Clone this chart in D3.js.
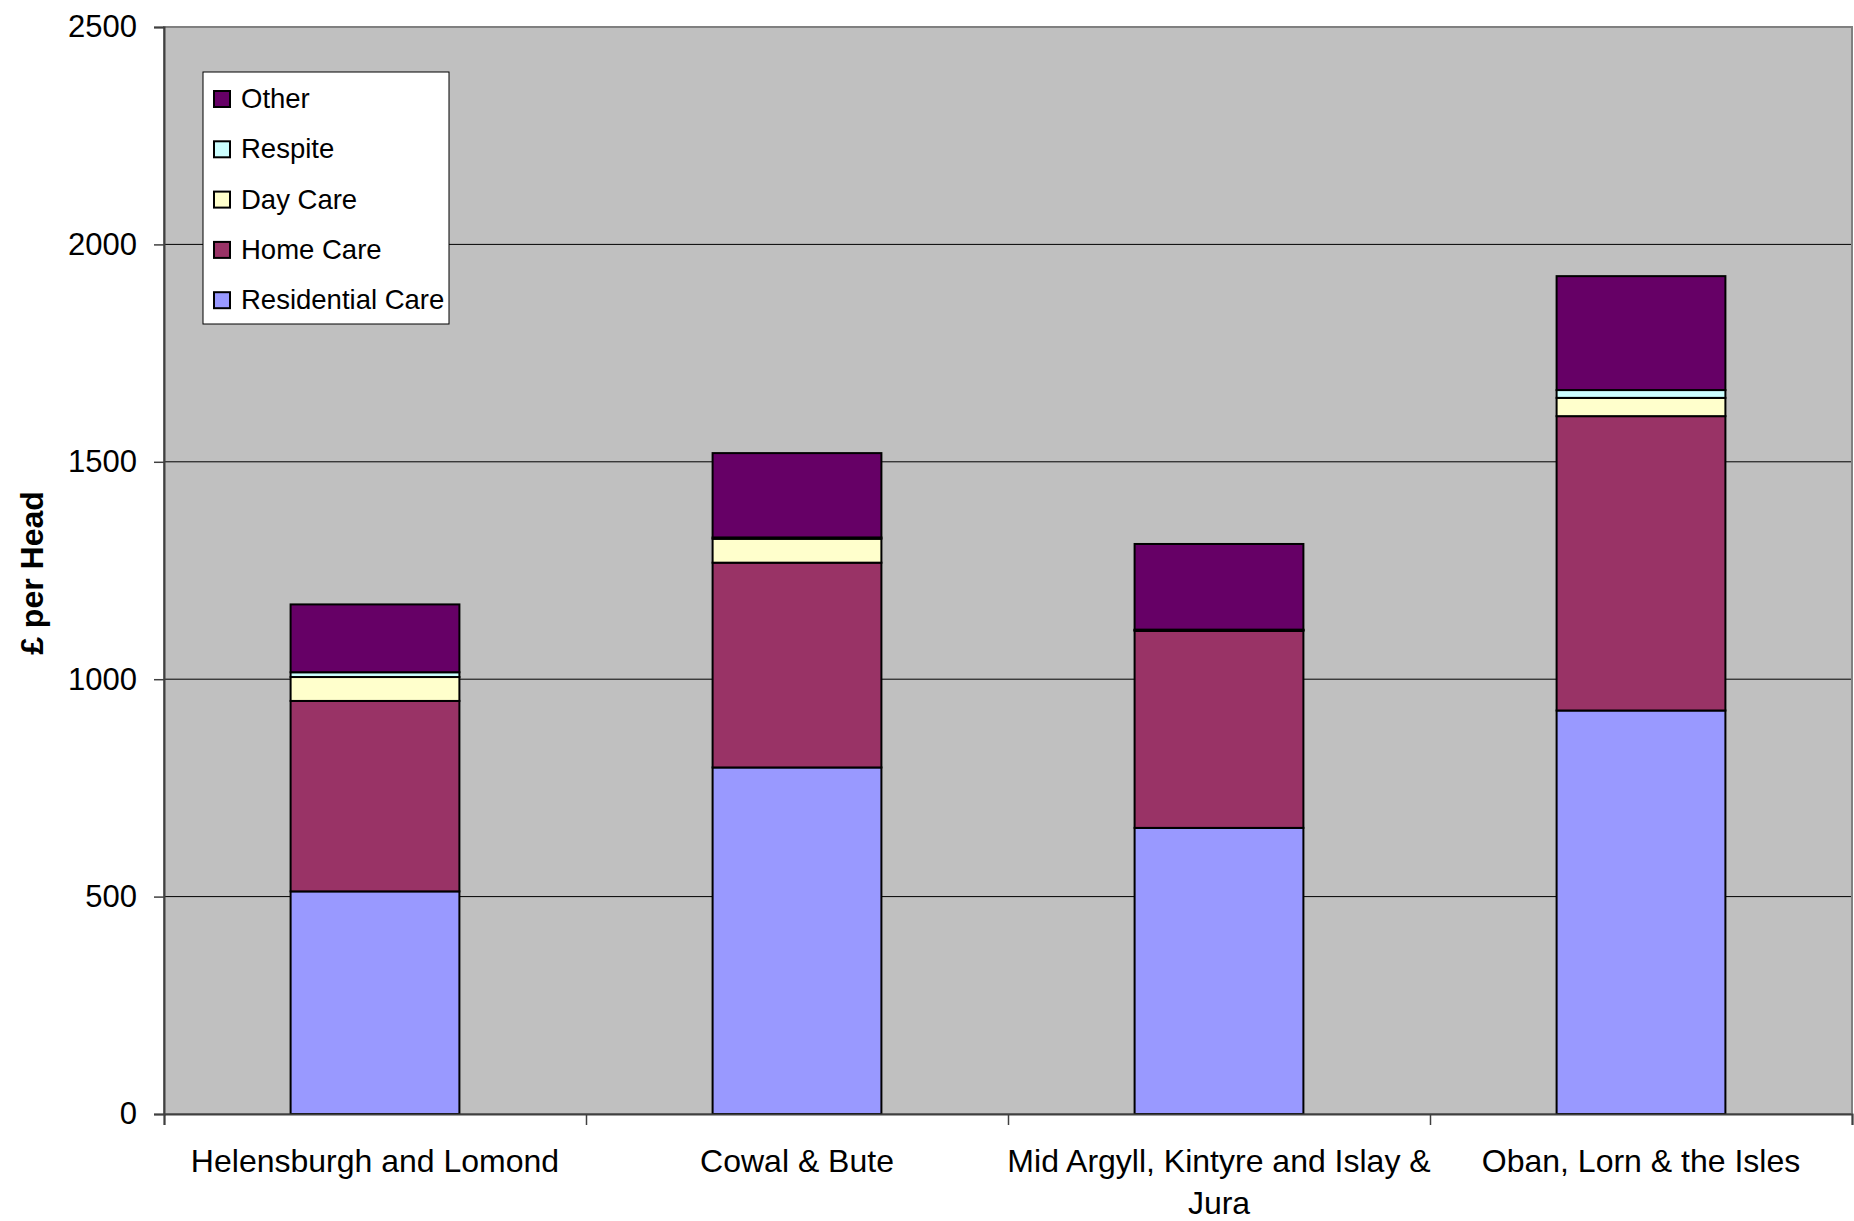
<!DOCTYPE html>
<html>
<head>
<meta charset="utf-8">
<script src="https://cdn.jsdelivr.net/npm/d3@7"></script>
<style>
  html, body { margin: 0; padding: 0; background: #ffffff; }
  svg { display: block; font-family: "Liberation Sans", Arial, sans-serif; }
</style>
</head>
<body>
<svg id="chart" width="1854" height="1221"></svg>
<script>
// Spending per head by locality, split by service type
const categories = [
  "Helensburgh and Lomond",
  "Cowal & Bute",
  "Mid Argyll, Kintyre and Islay & Jura",
  "Oban, Lorn & the Isles"
];
const residentialCare = [512, 797, 658, 928];
const homeCare        = [438, 471, 453, 677];
const dayCare         = [55, 55, 2, 42];
const respite         = [11, 3, 1, 18];
const other           = [156, 194, 197, 262];

const seriesNames  = ["Residential Care", "Home Care", "Day Care", "Respite", "Other"];
const seriesValues = [residentialCare, homeCare, dayCare, respite, other];
const seriesColors = ["#9999FF", "#993366", "#FFFFCC", "#CCFFFF", "#660066"];
const yTicks = [0, 500, 1000, 1500, 2000, 2500];
const yTitle = "£ per Head";

const svg = d3.select("#chart");
const plot = { left: 164, right: 1852, top: 27, bottom: 1114 };
const fontFamily = "Liberation Sans, Arial, sans-serif";

const x = d3.scaleBand()
  .domain(categories)
  .range([plot.left, plot.right])
  .paddingInner(0.6)
  .paddingOuter(0.3);

const y = d3.scaleLinear().domain([0, 2500]).range([plot.bottom, plot.top]);

// rows for the stack
const rows = categories.map((c, i) => {
  const r = { category: c };
  seriesNames.forEach((s, j) => { r[s] = seriesValues[j][i]; });
  return r;
});
const stacked = d3.stack().keys(seriesNames)(rows);

// plot background
svg.append("rect")
  .attr("x", plot.left).attr("y", plot.top)
  .attr("width", plot.right - plot.left).attr("height", plot.bottom - plot.top)
  .attr("fill", "#C0C0C0");

// horizontal gridlines
svg.append("g")
  .selectAll("line")
  .data(yTicks.filter(t => t > 0 && t < 2500))
  .join("line")
  .attr("x1", plot.left).attr("x2", plot.right)
  .attr("y1", d => y(d)).attr("y2", d => y(d))
  .attr("stroke", "#000").attr("stroke-width", 1);

// plot frame
svg.append("rect")
  .attr("x", plot.left).attr("y", plot.top)
  .attr("width", plot.right - plot.left).attr("height", plot.bottom - plot.top)
  .attr("fill", "none").attr("stroke", "#808080").attr("stroke-width", 2);

// stacked bars
const layers = svg.append("g")
  .selectAll("g")
  .data(stacked)
  .join("g")
  .attr("fill", (d, i) => seriesColors[i]);

layers.selectAll("rect")
  .data(d => d)
  .join("rect")
  .attr("x", d => x(d.data.category))
  .attr("width", x.bandwidth())
  .attr("y", d => y(d[1]))
  .attr("height", d => y(d[0]) - y(d[1]))
  .attr("stroke", "#000")
  .attr("stroke-width", 2);

// y axis
const yAxis = d3.axisLeft(y).tickValues(yTicks).tickFormat(d3.format("d"))
  .tickSize(10).tickPadding(17);
const gy = svg.append("g")
  .attr("transform", `translate(${plot.left},0)`)
  .call(yAxis);
gy.select(".domain").attr("stroke", "#404040").attr("stroke-width", 2);
gy.selectAll(".tick line").attr("stroke", "#404040").attr("stroke-width", 1.5);
gy.selectAll(".tick text")
  .attr("font-size", 31)
  .attr("font-family", fontFamily)
  .attr("fill", "#000");

// x axis: tick marks at category boundaries
const xEdges = d3.scaleLinear().domain([0, categories.length]).range([plot.left, plot.right]);
const gx = svg.append("g")
  .attr("transform", `translate(0,${plot.bottom})`)
  .call(d3.axisBottom(xEdges).tickValues(d3.range(categories.length + 1)).tickSize(11).tickFormat(""));
gx.select(".domain").attr("stroke", "#404040").attr("stroke-width", 2);
gx.selectAll(".tick line").attr("stroke", "#404040").attr("stroke-width", 1.5);

// category labels, wrapped to roughly the category width
const labelWidth = x.step() + 8;
const labels = svg.append("g")
  .selectAll("text")
  .data(categories)
  .join("text")
  .attr("x", d => x(d) + x.bandwidth() / 2)
  .attr("y", 1172)
  .attr("text-anchor", "middle")
  .attr("font-size", 32)
  .attr("font-family", fontFamily)
  .attr("fill", "#000");

labels.each(function (d) {
  const text = d3.select(this);
  const words = d.split(" ");
  const cx = +text.attr("x");
  let line = [];
  let tspan = text.append("tspan").attr("x", cx).attr("dy", 0);
  words.forEach(w => {
    line.push(w);
    tspan.text(line.join(" "));
    if (tspan.node().getComputedTextLength() > labelWidth && line.length > 1) {
      line.pop();
      tspan.text(line.join(" "));
      line = [w];
      tspan = text.append("tspan").attr("x", cx).attr("dy", 42).text(w);
    }
  });
});

// y axis title
svg.append("text")
  .attr("transform", `translate(43,${573}) rotate(-90)`)
  .attr("text-anchor", "middle")
  .attr("font-size", 32)
  .attr("font-weight", "bold")
  .attr("font-family", fontFamily)
  .attr("fill", "#000")
  .text(yTitle);

// legend (top series listed first)
const legend = svg.append("g").attr("transform", "translate(203,72)");
legend.append("rect")
  .attr("width", 246).attr("height", 252)
  .attr("fill", "#fff").attr("stroke", "#000").attr("stroke-width", 1);

const legendOrder = d3.range(seriesNames.length).reverse();
const items = legend.selectAll("g.item")
  .data(legendOrder)
  .join("g")
  .attr("class", "item")
  .attr("transform", (d, i) => `translate(0,${27 + i * 50.3})`);

items.append("rect")
  .attr("x", 11).attr("y", -8)
  .attr("width", 16).attr("height", 16)
  .attr("fill", d => seriesColors[d])
  .attr("stroke", "#000").attr("stroke-width", 2);

items.append("text")
  .attr("x", 38).attr("y", 9)
  .attr("font-size", 27.5)
  .attr("font-family", fontFamily)
  .attr("fill", "#000")
  .text(d => seriesNames[d]);
</script>
</body>
</html>
